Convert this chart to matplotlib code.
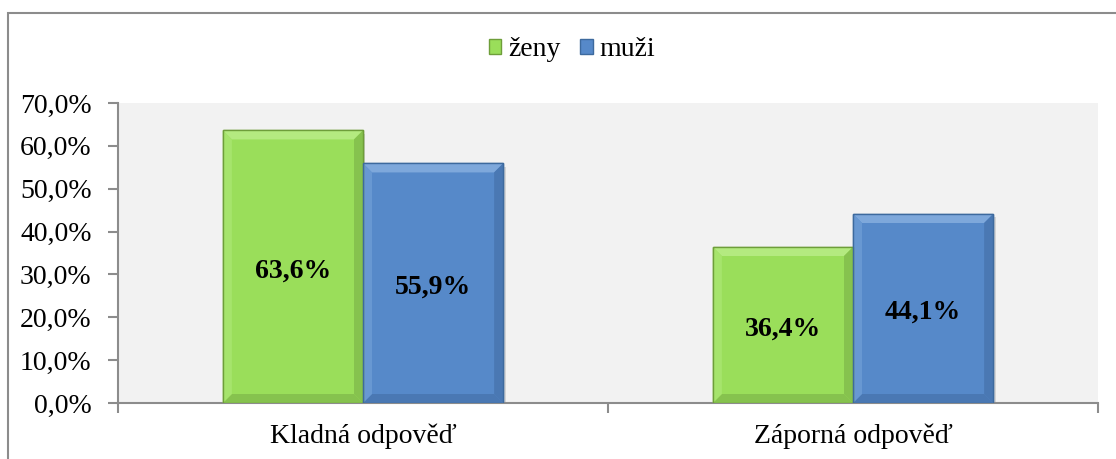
import numpy as np
import matplotlib
matplotlib.use('Agg')
import matplotlib.pyplot as plt
from matplotlib.patches import Polygon, Rectangle
from matplotlib.ticker import FuncFormatter, MultipleLocator

categories = ['Kladná odpověď', 'Záporná odpověď']
series_names = ['ženy', 'muži']
zeny = [63.6, 36.4]
muzi = [55.9, 44.1]

colors = ['#9ADE5A', '#5689C9']
edges = ['#6E9E3A', '#3D6A9E']
light = ['#B4EA80', '#7EA8DB']
lside = ['#A6E46C', '#6898D2']
dark = ['#86C24E', '#4A78B3']

plt.rcParams['font.family'] = ['Liberation Serif', 'DejaVu Serif']

fig = plt.figure(figsize=(11.16, 4.59), dpi=100)
ax = fig.add_axes([118 / 1116, 1 - 403 / 459, 980 / 1116, 300 / 459])
ax.set_facecolor('#F2F2F2')

# outer chart border (only left and top visible)
fig.patches.append(Rectangle((8 / 1116, -0.1), 1.2, 1 - 13 / 459 + 0.1,
                             transform=fig.transFigure, fill=False,
                             edgecolor='#8C8C8C', linewidth=1.5))

x = np.arange(len(categories))
w = 0.286
bw_x = 9 / 490
bw_y = 9 / 300 * 70


def bevel(ax, x0, x1, h, k):
    top = [(x0, h), (x1, h), (x1 - bw_x, h - bw_y), (x0 + bw_x, h - bw_y)]
    right = [(x1, h), (x1, 0), (x1 - bw_x, bw_y), (x1 - bw_x, h - bw_y)]
    bottom = [(x0, 0), (x1, 0), (x1 - bw_x, bw_y), (x0 + bw_x, bw_y)]
    left = [(x0, h), (x0, 0), (x0 + bw_x, bw_y), (x0 + bw_x, h - bw_y)]
    for pts, c in [(top, light[k]), (right, dark[k]), (bottom, dark[k]), (left, lside[k])]:
        ax.add_patch(Polygon(pts, closed=True, facecolor=c, edgecolor='none', zorder=3))
    ax.add_patch(Rectangle((x0, 0), x1 - x0, h, fill=False, edgecolor=edges[k],
                           linewidth=1, zorder=4))


for k, (vals, off) in enumerate([(zeny, -w / 2), (muzi, w / 2)]):
    bars = ax.bar(x + off, vals, w, color=colors[k], edgecolor=edges[k],
                  linewidth=1, zorder=2, label=series_names[k])
    for b, v in zip(bars, vals):
        # soft shadow
        ax.add_patch(Rectangle((b.get_x() + 0.005, -0.8), b.get_width(), v,
                               facecolor='#000000', alpha=0.12, edgecolor='none', zorder=1))
        bevel(ax, b.get_x(), b.get_x() + b.get_width(), v, k)
        ax.annotate(('%.1f%%' % v).replace('.', ','), (b.get_x() + b.get_width() / 2, v / 2),
                    xytext=(0, -3), textcoords='offset points',
                    ha='center', va='center', fontsize=20, fontweight='bold', zorder=5)

ax.set_xlim(-0.5, 1.5)
ax.set_ylim(0, 70)
ax.yaxis.set_major_locator(MultipleLocator(10))
ax.yaxis.set_major_formatter(FuncFormatter(lambda v, p: ('%.1f%%' % v).replace('.', ',')))
ax.set_xticks([-0.5, 0.5, 1.5])
ax.set_xticklabels([])
ax.set_xticks(x, minor=True)
ax.set_xticklabels(categories, minor=True)
ax.tick_params(axis='x', which='minor', length=0, labelsize=20, pad=15)
ax.tick_params(axis='x', which='major', length=7, width=1.5, color='#8C8C8C', direction='out')
ax.tick_params(axis='y', length=7, width=1.5, color='#8C8C8C', labelsize=20, pad=12)

for s in ['top', 'right']:
    ax.spines[s].set_visible(False)
for s in ['left', 'bottom']:
    ax.spines[s].set_color('#8C8C8C')
    ax.spines[s].set_linewidth(1.5)

leg = fig.legend(loc='center', bbox_to_anchor=(572 / 1116, 1 - 50 / 459), ncol=2,
                 frameon=False, fontsize=20, handlelength=0.45, handleheight=0.45,
                 handletextpad=0.25, columnspacing=0.7)

fig.savefig('out.png', dpi=100)
